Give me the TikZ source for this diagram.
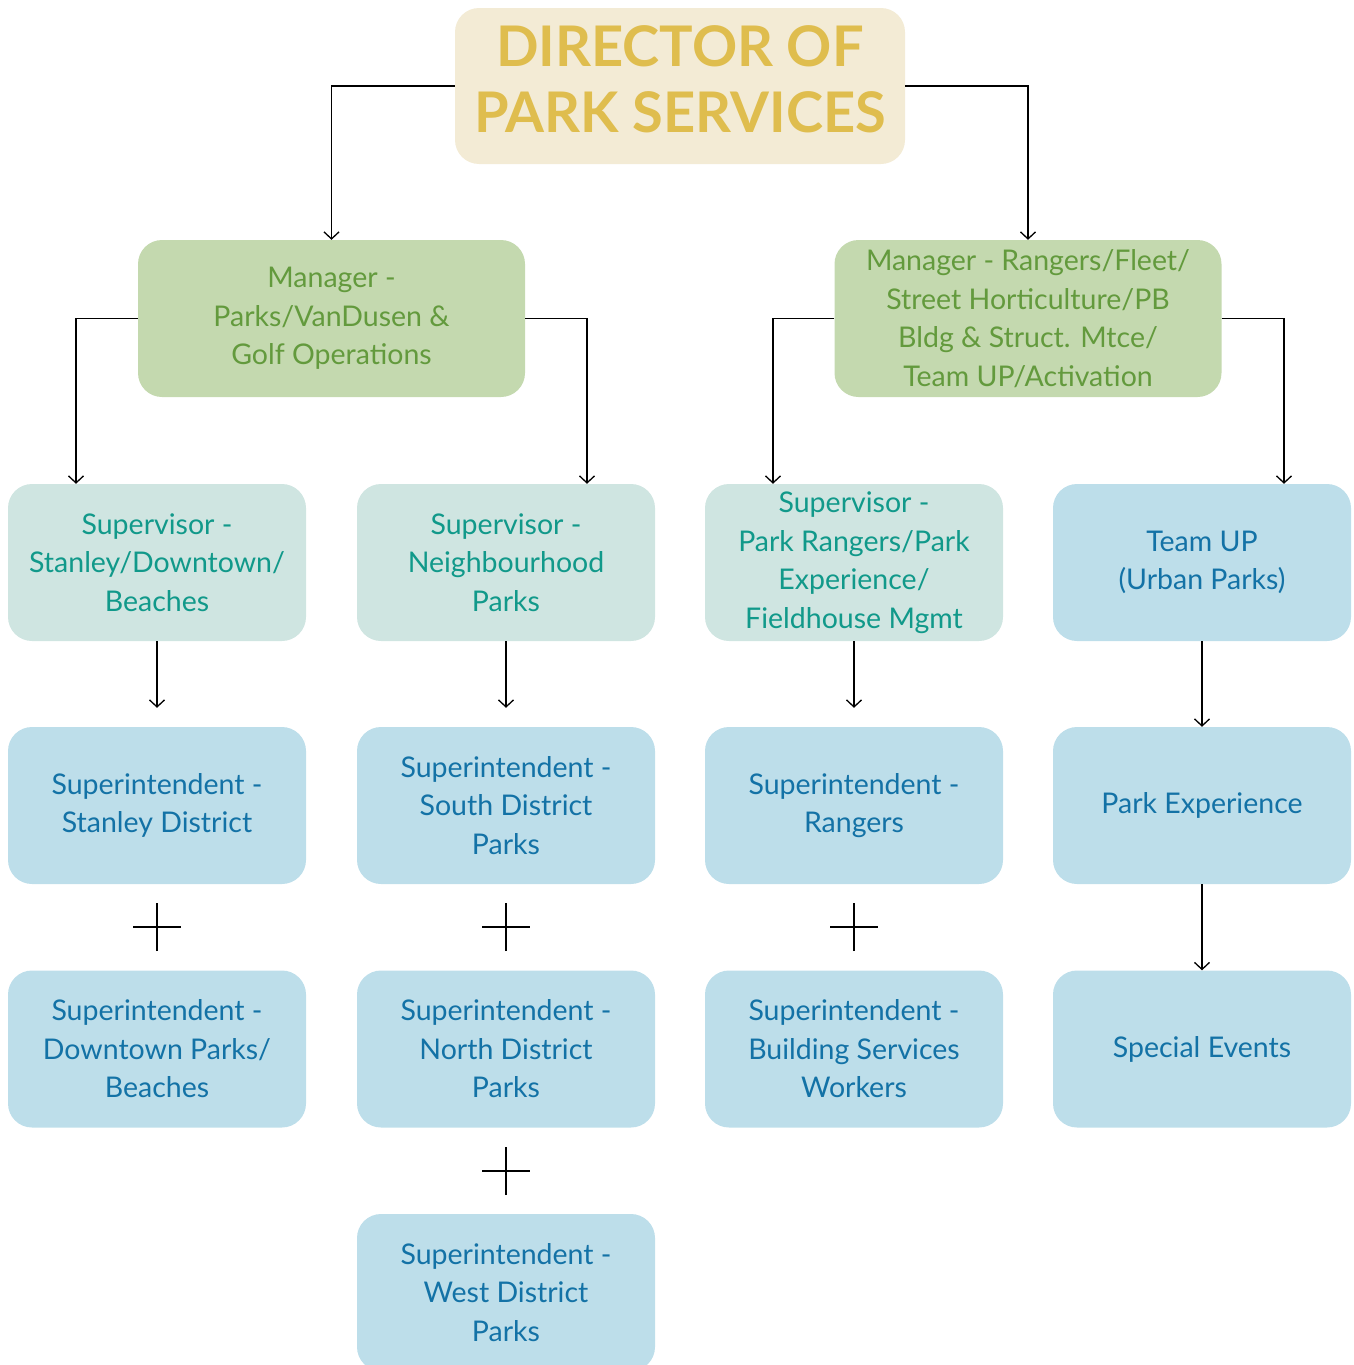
\documentclass[tikz,border=0pt]{standalone}
\usepackage{fontspec}
\setmainfont{Lato}
\usetikzlibrary{arrows.meta,positioning}
\definecolor{dirbg}{HTML}{F3EBD5}
\definecolor{dirfg}{HTML}{DFBD4E}
\definecolor{manbg}{HTML}{C4D9AF}
\definecolor{manfg}{HTML}{639A3D}
\definecolor{supbg}{HTML}{CFE5E1}
\definecolor{supfg}{HTML}{11998A}
\definecolor{intbg}{HTML}{BDDEEA}
\definecolor{intfg}{HTML}{1372A6}
\tikzset{
  box/.style={rectangle, rounded corners=24pt, inner sep=0pt, align=center,
    font=\fontsize{28.5}{38.5}\selectfont},
  dirbox/.style={rectangle, rounded corners=24pt, fill=dirbg, minimum width=450pt, minimum height=156pt},
  dirtext/.style={inner sep=0pt, align=center, text=dirfg, font=\fontsize{56}{66}\selectfont\bfseries},
  manbox/.style={box, fill=manbg, text=manfg, minimum width=387pt, minimum height=157pt},
  supbox/.style={box, fill=supbg, text=supfg, minimum width=298pt, minimum height=157pt},
  intbox/.style={box, fill=intbg, text=intfg, minimum width=298pt, minimum height=157pt},
  conn/.style={draw=black, line width=1.3pt, -{Straight Barb[length=7pt,width=15pt]}},
  plusline/.style={draw=black, line width=1.3pt}
}
\begin{document}
\begin{tikzpicture}[x=1pt,y=-1pt]
\useasboundingbox (0,0) rectangle (1354,1365);
\node[dirbox] (dir) at (680,86) {};
\node[dirtext] (dirt) at (680,79) {DIRECTOR OF\\PARK SERVICES};
\node[manbox] (manL) at (331.5,318.5) {Manager -\\Parks/VanDusen \&\\Golf Operations};
\node[manbox] (manR) at (1028,318.5) {Manager - Rangers/Fleet/\\Street Horticulture/PB\\Bldg \& Struct. Mtce/\\Team UP/Activation};
\node[supbox] (s1) at (157,562.5) {Supervisor -\\Stanley/Downtown/\\Beaches};
\node[supbox] (s2) at (506,562.5) {Supervisor -\\Neighbourhood\\Parks};
\node[supbox] (s3) at (854,562.5) {Supervisor -\\Park Rangers/Park\\Experience/\\Fieldhouse Mgmt};
\node[intbox] (s4) at (1202,562.5) {Team UP\\(Urban Parks)};
\node[intbox] (a2) at (157,805.5) {Superintendent -\\Stanley District};
\node[intbox] (b2) at (506,805.5) {Superintendent -\\South District\\Parks};
\node[intbox] (c2) at (854,805.5) {Superintendent -\\Rangers};
\node[intbox] (d2) at (1202,805.5) {Park Experience};
\node[intbox] (a3) at (157,1049) {Superintendent -\\Downtown Parks/\\Beaches};
\node[intbox] (b3) at (506,1049) {Superintendent -\\North District\\Parks};
\node[intbox] (c3) at (854,1049) {Superintendent -\\Building Services\\Workers};
\node[intbox] (d3) at (1202,1049) {Special Events};
\node[intbox] (b4) at (506,1292.5) {Superintendent -\\West District\\Parks};
% connectors
\draw[conn] (dir.west) -| (manL.north);
\draw[conn] (dir.east) -| (manR.north);
\draw[conn] (manL.west) -| ([xshift=-81pt]s1.north);
\draw[conn] (manL.east) -| ([xshift=81pt]s2.north);
\draw[conn] (manR.west) -| ([xshift=-81pt]s3.north);
\draw[conn] (manR.east) -| ([xshift=82pt]s4.north);
\draw[conn, shorten >=19pt] (s1) -- (a2);
\draw[conn, shorten >=19pt] (s2) -- (b2);
\draw[conn, shorten >=19pt] (s3) -- (c2);
\draw[conn] (s4) -- (d2);
\draw[conn] (d2) -- (d3);
% plus signs
\foreach \px/\py/\nm in {157/927/pa, 506/927/pb, 854/927/pc, 506/1171/pd}{
  \coordinate (\nm) at (\px,\py);
  \draw[plusline] ([xshift=-24pt]\nm) -- ([xshift=24pt]\nm);
  \draw[plusline] ([yshift=-24pt]\nm) -- ([yshift=24pt]\nm);
}
\end{tikzpicture}
\end{document}
